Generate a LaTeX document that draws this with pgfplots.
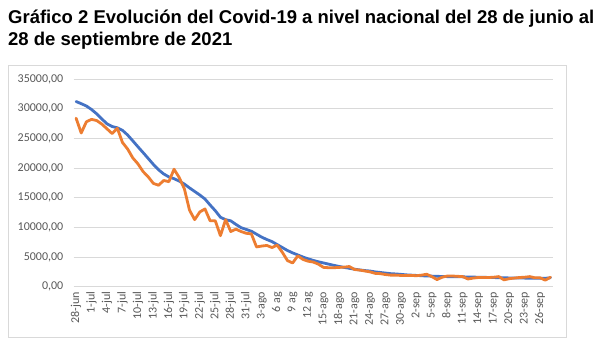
\documentclass[border=0pt]{standalone}
\usepackage{pgfplots}
\pgfplotsset{compat=1.18}
\usepackage{fontspec}
\setmainfont{Liberation Sans}
\newfontfamily\carlito{Carlito}
\definecolor{xlblue}{HTML}{4472C4}
\definecolor{xlorange}{HTML}{ED7D31}
\definecolor{gridc}{HTML}{D9D9D9}
\definecolor{lbl}{HTML}{595959}
\begin{document}
\begin{tikzpicture}[x=1bp,y=1bp]
\useasboundingbox (0,0) rectangle (603,346);
\fill[white] (0,0) rectangle (603,346);
\draw[gridc, line width=0.75bp] (8,9) rectangle (566,281);
\node[anchor=base west, inner sep=0pt, font=\fontsize{18.5bp}{22bp}\selectfont\bfseries] at (8,323) {Gráfico 2 Evolución del Covid-19 a nivel nacional del 28 de junio al};
\node[anchor=base west, inner sep=0pt, font=\fontsize{18.5bp}{22bp}\selectfont\bfseries] at (8,301) {28 de septiembre de 2021};
\begin{axis}[
  at={(73.5bp,59.3bp)}, anchor=south west,
  scale only axis, width=479.5bp, height=207.7bp,
  xmin=-0.5, xmax=92.5, ymin=0, ymax=35000,
  axis line style={draw=none},
  major tick length=0pt,
  ymajorgrids, grid style={gridc, line width=0.75bp},
  ytick={0,5000,...,35000},
  xtick={0,3,...,90},
  xticklabels={28-jun,1-jul,4-jul,7-jul,10-jul,13-jul,16-jul,19-jul,22-jul,25-jul,28-jul,31-jul,3-ago,6 ag,9 ag,12 ag,15-ago,18-ago,21-ago,24-ago,27-ago,30-ago,2-sep,5-sep,8-sep,11-sep,14-sep,17-sep,20-sep,23-sep,26-sep},
  yticklabel style={font=\carlito\fontsize{12bp}{14bp}\selectfont, text=lbl, anchor=east, inner ysep=0pt, inner xsep=10bp},
  xticklabel style={font=\carlito\fontsize{12bp}{14bp}\selectfont, text=lbl, rotate=90, anchor=east, inner ysep=0pt, inner xsep=5bp},
  scaled y ticks=false,
  /pgf/number format/.cd, fixed, fixed zerofill, precision=2, use comma, 1000 sep={}, assume math mode=true,
]
\addplot[xlblue, line width=2.8bp, line join=round, line cap=round] coordinates {
(0,31210)(1,30840)(2,30450)(3,29860)(4,29130)(5,28260)(6,27450)(7,26990)(8,26780)(9,26350)
(10,25560)(11,24580)(12,23580)(13,22600)(14,21600)(15,20600)(16,19700)(17,19000)(18,18500)(19,18200)
(20,17800)(21,17300)(22,16650)(23,16050)(24,15450)(25,14780)(26,13760)(27,12810)(28,11700)(29,11300)
(30,11100)(31,10500)(32,9950)(33,9650)(34,9350)(35,8850)(36,8350)(37,7950)(38,7600)(39,7100)
(40,6600)(41,6100)(42,5700)(43,5350)(44,5000)(45,4700)(46,4430)(47,4200)(48,4000)(49,3800)
(50,3600)(51,3420)(52,3250)(53,3100)(54,2950)(55,2830)(56,2720)(57,2640)(58,2500)(59,2400)
(60,2300)(61,2200)(62,2150)(63,2080)(64,2000)(65,1950)(66,1900)(67,1850)(68,1800)(69,1780)
(70,1750)(71,1720)(72,1700)(73,1690)(74,1680)(75,1660)(76,1640)(77,1620)(78,1600)(79,1580)
(80,1560)(81,1540)(82,1520)(83,1500)(84,1480)(85,1470)(86,1460)(87,1450)(88,1440)(89,1430)
(90,1420)(91,1420)(92,1500)
};
\addplot[xlorange, line width=2.8bp, line join=round, line cap=round] coordinates {
(0,28400)(1,25900)(2,27800)(3,28200)(4,28000)(5,27400)(6,26600)(7,25800)(8,26700)(9,24300)
(10,23200)(11,21700)(12,20700)(13,19400)(14,18500)(15,17400)(16,17100)(17,17900)(18,17700)(19,19800)
(20,18400)(21,16500)(22,12900)(23,11300)(24,12600)(25,13100)(26,11100)(27,11100)(28,8600)(29,11300)
(30,9300)(31,9700)(32,9300)(33,9000)(34,8900)(35,6700)(36,6850)(37,6950)(38,6600)(39,7000)
(40,5800)(41,4400)(42,4000)(43,5200)(44,4600)(45,4300)(46,4150)(47,3800)(48,3250)(49,3200)
(50,3200)(51,3250)(52,3300)(53,3400)(54,2900)(55,2800)(56,2650)(57,2500)(58,2250)(59,2200)
(60,2050)(61,1950)(62,1950)(63,1900)(64,1900)(65,1900)(66,1850)(67,1950)(68,2100)(69,1700)
(70,1200)(71,1600)(72,1800)(73,1800)(74,1750)(75,1700)(76,1300)(77,1450)(78,1550)(79,1550)
(80,1550)(81,1600)(82,1700)(83,1150)(84,1350)(85,1450)(86,1550)(87,1600)(88,1700)(89,1500)
(90,1500)(91,1100)(92,1600)
};
\end{axis}
\end{tikzpicture}
\end{document}
